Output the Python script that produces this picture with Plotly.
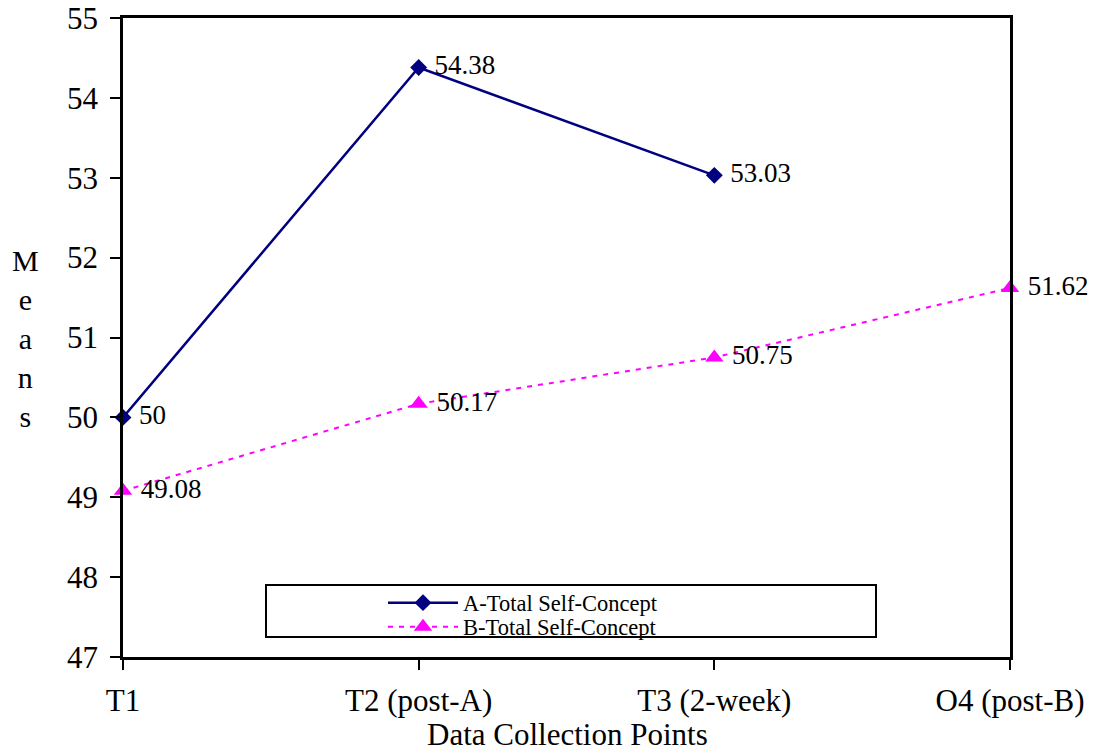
import plotly.graph_objects as go

# Measurement occasions and mean self-concept scores
points = ["T1", "T2 (post-A)", "T3 (2-week)", "O4 (post-B)"]
series_a_name = "A-Total Self-Concept"
series_a = [50, 54.38, 53.03, None]
series_b_name = "B-Total Self-Concept"
series_b = [49.08, 50.17, 50.75, 51.62]
y_ticks = [47, 48, 49, 50, 51, 52, 53, 54, 55]

FONT = "Liberation Serif, Times New Roman, serif"


def fmt(v):
    if v is None:
        return ""
    return "\u00a0" + f"{v:g}"


fig = go.Figure()
fig.add_trace(go.Scatter(
    x=points, y=series_a, name=series_a_name,
    mode="lines+markers+text",
    text=[fmt(v) for v in series_a], textposition="middle right",
    textfont=dict(family=FONT, size=27, color="black"),
    line=dict(color="#000080", width=2.5),
    marker=dict(symbol="diamond", size=13, color="#000080"),
    cliponaxis=False, legend="legend",
))
fig.add_trace(go.Scatter(
    x=points, y=series_b, name=series_b_name,
    mode="lines+markers+text",
    text=[fmt(v) for v in series_b], textposition="middle right",
    textfont=dict(family=FONT, size=27, color="black"),
    line=dict(color="#FF00FF", width=2, dash="5px,6px"),
    marker=dict(symbol="triangle-up", size=16, color="#FF00FF"),
    cliponaxis=False, legend="legend2",
))

legend_style = dict(
    xanchor="left", yanchor="middle",
    bgcolor="rgba(0,0,0,0)", borderwidth=0,
    font=dict(family=FONT, size=22.5, color="black"),
    itemwidth=70, tracegroupgap=0,
)

fig.update_layout(
    width=1095, height=752,
    margin=dict(l=123, r=85, t=18, b=95, autoexpand=False),
    paper_bgcolor="white", plot_bgcolor="white",
    font=dict(family=FONT, size=31, color="black"),
    showlegend=True,
    legend=dict(x=(383 - 123) / 887, y=(657 - 603) / 639, **legend_style),
    legend2=dict(x=(383 - 123) / 887, y=(657 - 627) / 639, **legend_style),
    xaxis=dict(
        type="category", range=[0, 3], automargin=False,
        showgrid=False, zeroline=False,
        showline=True, linecolor="black", linewidth=2.5, mirror=True,
        ticks="outside", ticklen=10, tickwidth=2, tickcolor="black",
        tickfont=dict(family=FONT, size=31), ticklabelstandoff=4,
    ),
    yaxis=dict(
        range=[47, 55], tickvals=y_ticks, automargin=False,
        showgrid=False, zeroline=False,
        showline=True, linecolor="black", linewidth=2.5, mirror=True,
        ticks="outside", ticklen=10, tickwidth=2, tickcolor="black",
        tickfont=dict(family=FONT, size=31), ticklabelstandoff=6,
    ),
    shapes=[dict(
        type="rect", xref="paper", yref="paper",
        x0=(266 - 123) / 887, x1=(876 - 123) / 887,
        y0=(657 - 637) / 639, y1=(657 - 585) / 639,
        line=dict(color="black", width=2), fillcolor="rgba(0,0,0,0)",
    )],
    annotations=[
        dict(text="Data Collection Points", xref="paper", yref="paper",
             x=(567 - 123) / 887, y=(657 - 734) / 639,
             xanchor="center", yanchor="middle",
             showarrow=False, font=dict(family=FONT, size=31)),
        dict(text="M<br>e<br>a<br>n<br>s", xref="paper", yref="paper",
             x=(25 - 123) / 887, y=(657 - 338) / 639,
             xanchor="center", yanchor="middle",
             showarrow=False, font=dict(family=FONT, size=30)),
    ],
)

fig.write_html("out.html")
